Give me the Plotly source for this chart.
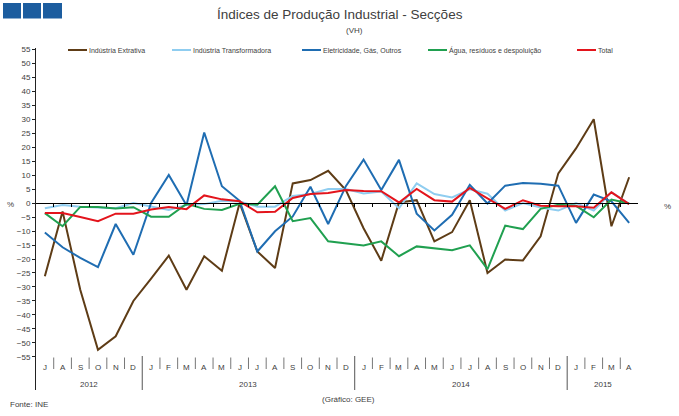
import plotly.graph_objects as go

# ---------------- data ----------------
months = ["J", "A", "S", "O", "N", "D",
          "J", "F", "M", "A", "M", "J", "J", "A", "S", "O", "N", "D",
          "J", "F", "M", "A", "M", "J", "J", "A", "S", "O", "N", "D",
          "J", "F", "M", "A"]
years = ["2012", "2013", "2014", "2015"]
year_len = [6, 12, 12, 4]

extrativa = [-26.2, -3.0, -31.0, -52.4, -47.6, -35.0, -27.0, -18.8, -31.0, -19.0,
             -24.2, 0.0, -17.3, -23.2, 7.0, 8.2, 11.5, 4.6, -9.0, -20.6,
             0.2, 1.0, -13.7, -10.4, 1.0, -25.0, -20.2, -20.5, -11.9, 10.6,
             19.5, 29.9, -8.3, 9.2]
transformadora = [-1.9, -0.7, -1.3, -1.6, -1.9, 0.0, -1.3, -2.5, -0.7, -0.4,
                  0.8, 0.5, -1.3, -1.3, 2.5, 3.2, 5.0, 5.0, 3.4, 4.1,
                  -1.9, 7.0, 3.2, 2.0, 4.9, 3.3, -2.7, 0.0, -1.6, -2.7,
                  0.0, -2.7, 3.8, -0.3]
eletricidade = [-10.5, -15.8, -19.6, -22.9, -7.5, -18.5, 0.0, 10.0, -0.8, 25.2,
                6.0, 0.8, -17.3, -10.1, -4.8, 5.8, -7.5, 6.0, 15.5, 4.6,
                15.4, -3.8, -9.8, -4.2, 6.5, -0.2, 6.2, 7.1, 6.9, 6.2,
                -7.1, 3.0, 0.6, -7.1]
agua = [-3.6, -8.3, -1.4, -1.4, -2.0, -1.5, -4.9, -4.9, -0.3, -2.1,
        -2.5, -0.3, -0.6, 6.0, -6.5, -5.4, -13.7, -14.5, -15.2, -13.7,
        -19.0, -15.5, -16.3, -16.9, -15.1, -23.6, -8.1, -9.3, -2.1, -0.6,
        -1.0, -5.1, 1.2, -0.2]
total = [-3.6, -3.6, -5.0, -6.5, -3.8, -3.8, -2.3, -1.4, -2.2, 2.7,
         1.3, 0.6, -3.3, -3.1, 1.8, 3.2, 3.6, 4.6, 4.3, 4.2,
         0.2, 5.0, 1.0, 0.5, 5.4, 1.8, -2.1, 1.0, -1.0, -1.2,
         -1.2, -1.7, 3.8, -0.4]

series_names = ["Indústria Extrativa", "Indústria Transformadora",
                "Eletricidade, Gás, Outros", "Água, resíduos e despoluição", "Total"]
series_values = [extrativa, transformadora, eletricidade, agua, total]
y_ticks = list(range(-55, 60, 5))

# ---------------- styles / layout ----------------
colors = ["#5e3c16", "#8fcdf0", "#1f6db2", "#20a050", "#e3141c"]
W, H = 679, 416
L_PX, R_PX, T_PX, B_PX = 36, 638, 48, 390
YMAX, YMIN = 55.36, -66.79
TXT = "#404040"
FONT = "Liberation Sans, Arial, sans-serif"

def pxx(x):
    return (x - L_PX) / (R_PX - L_PX)

def pxy(y):
    return (B_PX - y) / (B_PX - T_PX)

def yval(y):
    return YMAX - (y - T_PX) / (B_PX - T_PX) * (YMAX - YMIN)

n = len(months)
xs = list(range(n))

fig = go.Figure()
for name, vals, col in zip(series_names, series_values, colors):
    fig.add_trace(go.Scatter(x=xs, y=vals, name=name, mode="lines",
                             line=dict(color=col, width=2), showlegend=False,
                             cliponaxis=False))

shapes = []
annotations = []

# logo squares
for x0, x1 in [(3, 21), (23, 41), (43, 62)]:
    shapes.append(dict(type="rect", xref="paper", yref="paper",
                       x0=pxx(x0), x1=pxx(x1), y0=pxy(3), y1=pxy(18.5),
                       fillcolor="#1c5d9f", line=dict(width=0), layer="above"))

# manual legend
leg_pos = [68, 172, 302, 428, 577]
for name, col, lx in zip(series_names, colors, leg_pos):
    shapes.append(dict(type="line", xref="paper", yref="paper",
                       x0=pxx(lx), x1=pxx(lx + 19), y0=pxy(50), y1=pxy(50),
                       line=dict(color=col, width=2)))
    annotations.append(dict(text=name, xref="paper", yref="paper",
                            x=pxx(lx + 19), y=pxy(50), xanchor="left", yanchor="middle",
                            showarrow=False, font=dict(size=7, color=TXT, family=FONT)))

# month labels and separators
for i, m in enumerate(months):
    annotations.append(dict(text=m, xref="x", yref="y", x=i, y=yval(367),
                            showarrow=False, xanchor="center", yanchor="middle",
                            font=dict(size=8, color=TXT, family=FONT)))
start = 0
bounds = set()
for yr, ln in zip(years, year_len):
    annotations.append(dict(text=yr, xref="x", yref="y", x=start + (ln - 1) / 2,
                            y=yval(384), showarrow=False, xanchor="center",
                            yanchor="middle", font=dict(size=8, color=TXT, family=FONT)))
    start += ln
    if start < n:
        bounds.add(start - 0.5)
for i in range(n - 1):
    b = i + 0.5
    if b in bounds:
        shapes.append(dict(type="line", xref="x", yref="y", x0=b, x1=b,
                           y0=yval(356), y1=YMIN, line=dict(color="#555555", width=1)))
    else:
        shapes.append(dict(type="line", xref="x", yref="y", x0=b, x1=b,
                           y0=yval(357.5), y1=yval(369), line=dict(color="#777777", width=1)))

# texts
annotations += [
    dict(text="Índices de Produção Industrial - Secções", xref="paper", yref="paper",
         x=pxx(340), y=pxy(15), showarrow=False, xanchor="center", yanchor="middle",
         font=dict(size=13.5, color=TXT, family=FONT)),
    dict(text="(VH)", xref="paper", yref="paper", x=pxx(354), y=pxy(30),
         showarrow=False, xanchor="center", yanchor="middle",
         font=dict(size=8, color=TXT, family=FONT)),
    dict(text="%", xref="paper", yref="paper", x=pxx(10), y=pxy(205),
         showarrow=False, xanchor="center", yanchor="middle",
         font=dict(size=8, color=TXT, family=FONT)),
    dict(text="%", xref="paper", yref="paper", x=pxx(667), y=pxy(206),
         showarrow=False, xanchor="center", yanchor="middle",
         font=dict(size=8, color=TXT, family=FONT)),
    dict(text="Fonte: INE", xref="paper", yref="paper", x=pxx(8), y=pxy(404),
         showarrow=False, xanchor="left", yanchor="middle",
         font=dict(size=8, color=TXT, family=FONT)),
    dict(text="(Gráfico: GEE)", xref="paper", yref="paper", x=pxx(348), y=pxy(399),
         showarrow=False, xanchor="center", yanchor="middle",
         font=dict(size=8, color=TXT, family=FONT)),
]

zero_pos = (0 - YMIN) / (YMAX - YMIN)
yax_common = dict(range=[YMIN, YMAX], tickvals=y_ticks, showgrid=False, zeroline=False,
                  tickfont=dict(size=8, color=TXT, family=FONT), ticklen=3,
                  tickcolor="#222222", fixedrange=True)

fig.update_layout(
    width=W, height=H,
    margin=dict(l=L_PX, r=W - R_PX, t=T_PX, b=H - B_PX, pad=0),
    paper_bgcolor="white", plot_bgcolor="white",
    showlegend=False,
    xaxis=dict(range=[-0.5, n - 0.5], anchor="free", position=zero_pos,
               showline=True, linecolor="black", linewidth=1,
               ticks="outside", ticklen=3, tickcolor="black",
               tickvals=[i + 0.5 for i in range(n - 1)], showticklabels=False,
               showgrid=False, zeroline=False, fixedrange=True),
    yaxis=dict(side="left", ticks="outside", showline=True, linecolor="#222222",
               linewidth=1, **yax_common),
    yaxis2=dict(side="right", overlaying="y", ticks="outside", showline=True,
                linecolor="#222222", linewidth=1, **yax_common),
    yaxis3=dict(side="left", overlaying="y", ticks="inside", showline=False,
                showticklabels=False, **yax_common),
    yaxis4=dict(side="right", overlaying="y", ticks="inside", showline=False,
                showticklabels=False, **yax_common),
    shapes=shapes,
    annotations=annotations,
)

fig.write_html("out.html", config={"displayModeBar": False},
               post_script="document.body.style.margin='0px';document.body.style.overflow='hidden';")
